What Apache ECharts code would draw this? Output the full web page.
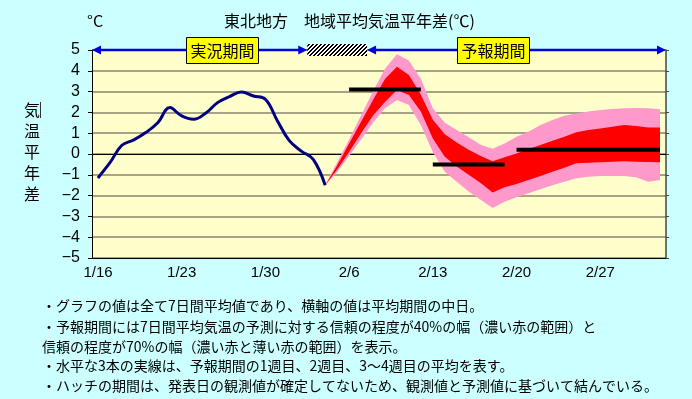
<!DOCTYPE html>
<html>
<head>
<meta charset="utf-8">
<script src="https://cdn.jsdelivr.net/npm/echarts@6/dist/echarts.min.js"></script>
<style>
  html, body { margin: 0; padding: 0; background: #ccffff; }
  #chart { width: 692px; height: 399px; }
</style>
</head>
<body>
<div id="chart"></div>
<script>
// 日付（7日間平均の中日）
const days = [
  '1/16', '1/17', '1/18', '1/19', '1/20', '1/21', '1/22', '1/23', '1/24', '1/25', '1/26', '1/27', '1/28', '1/29', '1/30', '1/31',
  '2/1', '2/2', '2/3', '2/4', '2/5', '2/6', '2/7', '2/8', '2/9', '2/10', '2/11', '2/12', '2/13', '2/14', '2/15', '2/16',
  '2/17', '2/18', '2/19', '2/20', '2/21', '2/22', '2/23', '2/24', '2/25', '2/26', '2/27', '2/28', '3/1', '3/2', '3/3', '3/4'
];

// 実況（1/16〜2/4）
const observedStart = 0;
const observed = [-1.15, -0.42, 0.42, 0.68, 1.03, 1.5, 2.23, 1.83, 1.67, 1.96, 2.47, 2.76, 2.98, 2.79, 2.63, 1.6, 0.64, 0.14, -0.26, -1.5];

// 予報（2/4〜3/4）
const forecastStart = 19;
const upper70 = [-1.5, -0.4, 0.7, 1.85, 3.0, 4.1, 4.8, 4.5, 3.6, 2.2, 1.5, 1.15, 0.8, 0.45, 0.25, 0.5, 0.83, 1.07, 1.39, 1.63, 1.84, 1.95, 2.04, 2.12, 2.16, 2.2, 2.21, 2.2, 2.15];
const upper40 = [-1.5, -0.55, 0.5, 1.55, 2.6, 3.6, 4.2, 3.8, 2.85, 1.65, 0.95, 0.55, 0.2, -0.1, -0.35, -0.16, 0.03, 0.24, 0.43, 0.64, 0.83, 1.04, 1.15, 1.23, 1.31, 1.39, 1.35, 1.28, 1.28];
const lower40 = [-1.5, -0.75, 0.1, 1.0, 1.85, 2.5, 3.08, 2.84, 2.04, 0.75, -0.13, -0.6, -1.0, -1.4, -1.85, -1.6, -1.44, -1.25, -1.06, -0.85, -0.66, -0.45, -0.42, -0.4, -0.37, -0.35, -0.37, -0.38, -0.4];
const lower70 = [-1.5, -0.85, -0.1, 0.7, 1.5, 2.2, 2.6, 2.36, 1.4, 0.1, -0.85, -1.33, -1.8, -2.2, -2.6, -2.29, -2.08, -1.89, -1.7, -1.5, -1.33, -1.17, -1.09, -1.06, -1.06, -1.06, -1.12, -1.33, -1.25];

// 1週目、2週目、3〜4週目の平均
const weekAvg = [3.1, -0.5, 0.2];
const weekFrom = [21, 28, 35];
const weekTo = [27, 34, 47];

const yTicks = [-5, -4, -3, -2, -1, 0, 1, 2, 3, 4, 5];

const notes = [
  '・グラフの値は全て7日間平均値であり、横軸の値は平均期間の中日。',
  '・予報期間には7日間平均気温の予測に対する信頼の程度が40%の幅（濃い赤の範囲）と',
  '信頼の程度が70%の幅（濃い赤と薄い赤の範囲）を表示。',
  '・水平な3本の実線は、予報期間の1週目、2週目、3～4週目の平均を表す。',
  '・ハッチの期間は、発表日の観測値が確定してないため、観測値と予測値に基づいて結んでいる。'
];

const gridLeft = 92, gridTop = 50, gridWidth = 574, gridHeight = 208;
const cjk = '"Noto Sans CJK JP", sans-serif';

function span(start, values) {
  const out = new Array(days.length).fill(null);
  values.forEach((v, i) => { out[start + i] = v; });
  return out;
}

function weekSeries(k) {
  const out = new Array(days.length).fill(null);
  for (let i = weekFrom[k]; i <= weekTo[k]; i++) out[i] = weekAvg[k];
  return {
    type: 'line', data: out, symbol: 'none', z: 5,
    lineStyle: { color: '#000', width: 4 }
  };
}

// ハッチ用パターン
const hatch = document.createElement('canvas');
hatch.width = 4; hatch.height = 4;
const hc = hatch.getContext('2d');
hc.fillStyle = '#fff'; hc.fillRect(0, 0, 4, 4);
hc.fillStyle = '#000';
for (let x = 0; x < 4; x++) {
  for (let y = 0; y < 4; y++) {
    if ((x + y) % 4 < 2) hc.fillRect(x, y, 1, 1);
  }
}

function initChart() {
  const myChart = echarts.init(document.getElementById('chart'), null, { renderer: 'canvas' });
  const step = gridWidth / days.length;
  const bx = b => gridLeft + b * step;  // カテゴリ境界のx
  const ay = gridTop;

  const invisible = { type: 'line', symbol: 'none', lineStyle: { opacity: 0, width: 0 }, stackStrategy: 'all' };

  const option = {
    animation: false,
    backgroundColor: '#ccffff',
    grid: {
      left: gridLeft, top: gridTop, width: gridWidth, height: gridHeight,
      show: true, backgroundColor: '#ffffcc', borderWidth: 0,
      containLabel: false, outerBoundsMode: 'none'
    },
    xAxis: [
      {
        type: 'category', data: days, position: 'bottom', boundaryGap: true,
        axisLine: { onZero: false, lineStyle: { color: '#000', width: 1 } },
        axisTick: { interval: 6, length: 4, lineStyle: { color: '#000' } },
        axisLabel: { interval: 6, margin: 7, color: '#000', fontSize: 15, fontFamily: '"Liberation Sans", Arial' },
        splitLine: { show: false }
      },
      {
        type: 'category', data: days, position: 'bottom', boundaryGap: true,
        axisLine: { onZero: false, show: false },
        axisTick: { interval: 6, length: 4, inside: true, lineStyle: { color: '#000' } },
        axisLabel: { show: false }, splitLine: { show: false }
      },
      {
        type: 'category', data: days, position: 'bottom', boundaryGap: true,
        axisLine: { onZero: true, lineStyle: { color: '#000', width: 1 } },
        axisTick: { interval: 0, length: 3, lineStyle: { color: '#000' } },
        axisLabel: { show: false }, splitLine: { show: false }
      },
      {
        type: 'category', data: days, position: 'bottom', boundaryGap: true,
        axisLine: { onZero: true, show: false },
        axisTick: { interval: 0, length: 3, inside: true, lineStyle: { color: '#000' } },
        axisLabel: { show: false }, splitLine: { show: false }
      }
    ],
    yAxis: [
      {
        type: 'value', min: yTicks[0], max: yTicks[yTicks.length - 1], interval: 1, position: 'left',
        axisLine: { show: true, lineStyle: { color: '#000', width: 1 } },
        axisTick: { show: true, length: 4, lineStyle: { color: '#000' } },
        axisLabel: {
          margin: 12, color: '#000', fontSize: 16, fontFamily: '"Liberation Sans", Arial',
          formatter: v => (v < 0 ? '\u2212' + (-v) : String(v))
        },
        splitLine: { show: true, lineStyle: { color: '#a8a386', width: 2 } }
      },
      {
        type: 'value', min: yTicks[0], max: yTicks[yTicks.length - 1], interval: 1, position: 'right',
        axisLine: { show: true, lineStyle: { color: '#444', width: 1.5 } },
        axisTick: { show: true, length: 3, lineStyle: { color: '#444' } },
        axisLabel: { show: false }, splitLine: { show: false }
      }
    ],
    series: [
      Object.assign({}, invisible, { stack: 'p70', data: span(forecastStart, lower70) }),
      {
        type: 'line', stack: 'p70', stackStrategy: 'all', symbol: 'none',
        data: span(forecastStart, upper70.map((v, i) => v - lower70[i])),
        lineStyle: { width: 0, opacity: 0 },
        areaStyle: { color: '#ff99cc', opacity: 1 }
      },
      Object.assign({}, invisible, { stack: 'p40', data: span(forecastStart, lower40) }),
      {
        type: 'line', stack: 'p40', stackStrategy: 'all', symbol: 'none',
        data: span(forecastStart, upper40.map((v, i) => v - lower40[i])),
        lineStyle: { width: 0, opacity: 0 },
        areaStyle: { color: '#ff0000', opacity: 1 }
      },
      weekSeries(0),
      weekSeries(1),
      weekSeries(2),
      {
        type: 'line', data: span(observedStart, observed), symbol: 'none', smooth: 0.4, z: 6,
        lineStyle: { color: '#000080', width: 3 }
      }
    ],
    graphic: [
      // タイトル
      { type: 'text', left: 87, top: 13, z: 20, style: { text: '°C', font: '16px ' + cjk, fill: '#000' } },
      { type: 'text', left: 224, top: 13, z: 20, style: { text: '東北地方', font: '16px ' + cjk, fill: '#000' } },
      { type: 'text', left: 304, top: 13, z: 20, style: { text: '地域平均気温平年差(℃)', font: '16px ' + cjk, fill: '#000' } },
      // 縦軸名
      { type: 'text', x: 32, y: 99, z: 20, style: { text: '気\n温\n平\n年\n差', font: '16px ' + cjk, fill: '#000', align: 'center', lineHeight: 21 } },
      { type: 'line', z: 20, shape: { x1: 40.5, y1: 102, x2: 40.5, y2: 118 }, style: { stroke: '#333', lineWidth: 1 } },
      // 実況期間の矢印
      { type: 'line', z: 20, shape: { x1: bx(0) + 4, y1: ay, x2: bx(18) - 4, y2: ay }, style: { stroke: '#0000dd', lineWidth: 2.5 } },
      { type: 'polygon', z: 20, shape: { points: [[bx(0), ay], [bx(0) + 9, ay - 4.5], [bx(0) + 9, ay + 4.5]] }, style: { fill: '#0000dd' } },
      { type: 'polygon', z: 20, shape: { points: [[bx(18), ay], [bx(18) - 9, ay - 4.5], [bx(18) - 9, ay + 4.5]] }, style: { fill: '#0000dd' } },
      // ハッチ
      { type: 'rect', z: 20, shape: { x: bx(18), y: 44, width: bx(23) - bx(18), height: 12 }, style: { fill: { image: hatch, repeat: 'repeat' } } },
      // 予報期間の矢印
      { type: 'line', z: 20, shape: { x1: bx(23) + 4, y1: ay, x2: bx(48) - 4, y2: ay }, style: { stroke: '#0000dd', lineWidth: 2.5 } },
      { type: 'polygon', z: 20, shape: { points: [[bx(23), ay], [bx(23) + 9, ay - 4.5], [bx(23) + 9, ay + 4.5]] }, style: { fill: '#0000dd' } },
      { type: 'polygon', z: 20, shape: { points: [[bx(48), ay], [bx(48) - 9, ay - 4.5], [bx(48) - 9, ay + 4.5]] }, style: { fill: '#0000dd' } },
      // ラベル
      { type: 'rect', z: 21, shape: { x: 186.5, y: 37.5, width: 72, height: 26 }, style: { fill: '#ffff00', stroke: '#000', lineWidth: 1 } },
      { type: 'text', z: 22, x: 222.5, y: 50.5, style: { text: '実況期間', font: '16px ' + cjk, fill: '#000', align: 'center', verticalAlign: 'middle' } },
      { type: 'rect', z: 21, shape: { x: 457.5, y: 37.5, width: 72, height: 26 }, style: { fill: '#ffff00', stroke: '#000', lineWidth: 1 } },
      { type: 'text', z: 22, x: 493.5, y: 50.5, style: { text: '予報期間', font: '16px ' + cjk, fill: '#000', align: 'center', verticalAlign: 'middle' } }
    ].concat(notes.map((t, i) => ({
      type: 'text', z: 20, x: 42, y: [306, 327, 347, 366, 386][i],
      style: { text: t, font: '14px ' + cjk, fill: '#000', verticalAlign: 'middle' }
    })))
  };
  myChart.setOption(option);
}

initChart();
</script>
</body>
</html>
